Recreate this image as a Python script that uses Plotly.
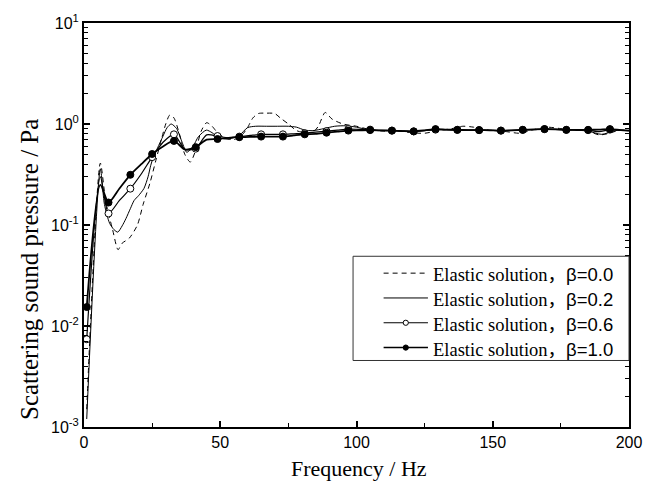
import plotly.graph_objects as go

# Scattered sound pressure amplitude (Pa) versus frequency (Hz) for four damping ratios
F_B00 = [1, 6, 8, 10.5, 12.5, 14, 16.6, 19.6, 21.7, 24.2, 26.5, 28.5, 30, 31.5, 33, 35, 37, 39, 41, 43,
         45, 47, 49, 52, 55, 58, 60, 62, 64, 67, 70, 72, 75, 78, 81, 84, 86, 88.5, 91, 95,
         100, 105, 110, 115, 120, 125, 130, 135, 139, 143, 147, 151, 155, 160, 165, 170, 175, 180, 185, 189,
         192, 196, 200]
P_B00 = [0.0015, 0.41, 0.17, 0.09, 0.057, 0.066, 0.074, 0.10, 0.16, 0.26, 0.45, 0.72, 1.0, 1.23, 1.15, 0.8, 0.5, 0.42, 0.55, 0.85,
         1.03, 0.95, 0.82, 0.72, 0.70, 0.78, 0.92, 1.15, 1.27, 1.28, 1.27, 1.15, 1.0, 0.86, 0.82, 0.83, 0.95, 1.3, 1.12, 1.0,
         0.95, 0.88, 0.85, 0.86, 0.82, 0.81, 0.86, 0.9, 0.95, 0.93, 0.88, 0.86, 0.84, 0.81, 0.88, 0.93, 0.9, 0.87, 0.85, 0.78,
         0.8, 0.86, 0.87]

F_B02 = [1, 6, 7.5, 9.4, 11, 12.4, 14, 15.4, 17, 18.4, 20, 22, 23.5, 24.5, 25.7, 27, 29, 30.5, 32, 34,
         36, 37.7, 40, 42, 44.9, 47, 49.2, 52, 54, 57, 60, 63, 67, 71, 75, 78, 81, 84, 88, 92,
         96, 100, 104, 108, 113, 121, 129, 137, 145, 153, 161, 169, 177, 185, 190, 195, 200]
P_B02 = [0.0012, 0.36, 0.16, 0.104, 0.09, 0.085, 0.098, 0.116, 0.145, 0.175, 0.195, 0.23, 0.3, 0.39, 0.49, 0.58, 0.76, 0.92, 1.0, 0.9,
         0.66, 0.525, 0.6, 0.75, 0.87, 0.82, 0.74, 0.71, 0.72, 0.77, 0.92, 0.95, 0.95, 0.95, 0.95, 0.93, 0.87, 0.86, 0.9, 0.95,
         0.96, 0.93, 0.88, 0.86, 0.86, 0.85, 0.88, 0.87, 0.87, 0.86, 0.87, 0.89, 0.88, 0.85, 0.79, 0.86, 0.86]

F_B06 = [1, 6, 9, 13, 17, 21, 25, 29, 33, 37, 41, 45, 49, 53, 57, 61, 65, 69, 73, 77,
         81, 85, 89, 93, 97, 101, 105, 109, 113, 117, 121, 125, 129, 133, 137, 141, 145, 149, 153, 157,
         161, 165, 169, 173, 177, 181, 185, 189, 193, 197, 200]
P_B06 = [0.0074, 0.30, 0.13, 0.175, 0.229, 0.32, 0.47, 0.66, 0.79, 0.56, 0.57, 0.78, 0.76, 0.73, 0.75, 0.77, 0.79, 0.79, 0.79, 0.80,
         0.81, 0.83, 0.85, 0.87, 0.89, 0.885, 0.88, 0.865, 0.86, 0.85, 0.845, 0.86, 0.88, 0.88, 0.875, 0.87, 0.87, 0.865, 0.86, 0.865,
         0.875, 0.88, 0.89, 0.885, 0.875, 0.87, 0.87, 0.84, 0.88, 0.87, 0.86]

F_B10 = [1, 6, 9, 13, 17, 21, 25, 29, 33, 37, 41, 45, 49, 53, 57, 61, 65, 69, 73, 77,
         81, 85, 89, 93, 97, 101, 105, 109, 113, 117, 121, 125, 129, 133, 137, 141, 145, 149, 153, 157,
         161, 165, 169, 173, 177, 181, 185, 189, 193, 197, 200]
P_B10 = [0.0154, 0.25, 0.167, 0.23, 0.314, 0.40, 0.505, 0.60, 0.68, 0.56, 0.59, 0.70, 0.71, 0.73, 0.74, 0.745, 0.75, 0.75, 0.75, 0.77,
         0.79, 0.80, 0.82, 0.84, 0.86, 0.865, 0.87, 0.865, 0.86, 0.85, 0.845, 0.865, 0.89, 0.88, 0.875, 0.87, 0.87, 0.865, 0.86, 0.865,
         0.875, 0.885, 0.89, 0.885, 0.875, 0.875, 0.875, 0.88, 0.89, 0.87, 0.86]

# frequencies at which symbols are plotted on the marked curves
MARKER_F = [1, 9, 17, 25, 33, 41, 49, 57, 65, 73, 81, 89, 97, 105, 113, 121, 129, 137, 145, 153,
            161, 169, 177, 185, 193]

BETAS = ["0.0", "0.2", "0.6", "1.0"]
X_TICKS = [0, 50, 100, 150, 200]
Y_TICKS = [1e-3, 1e-2, 1e-1, 1, 10]
Y_TICK_TEXT = ["10<sup>-3</sup>", "10<sup>-2</sup>", "10<sup>-1</sup>", "10<sup>0</sup>", "10<sup>1</sup>"]
X_TITLE = "Frequency / Hz"
Y_TITLE = "Scattering sound pressure / Pa"

SERIF = "Liberation Serif"
SANS = "Liberation Sans"

LINE_STYLES = [
    dict(color="black", width=1, dash="5px,4px"),
    dict(color="black", width=1),
    dict(color="black", width=1.2),
    dict(color="black", width=1.8),
]
MARKER_FILL = [None, None, "white", "black"]

series = [(F_B00, P_B00), (F_B02, P_B02), (F_B06, P_B06), (F_B10, P_B10)]

W, H = 654, 484
L, R, T, B = 84, 17, 20, 57
PW, PH = W - L - R, H - T - B


def px_x(x):
    return (x - L) / PW


def px_y(y):
    return (H - B - y) / PH


fig = go.Figure()
for (fx, py), line, fill in zip(series, LINE_STYLES, MARKER_FILL):
    fig.add_trace(go.Scatter(x=fx, y=py, mode="lines",
                             line=dict(shape="spline", smoothing=0.7, **line),
                             showlegend=False, hoverinfo="skip"))
    if fill is not None:
        mx = [f for f in fx if f in MARKER_F]
        my = [p for f, p in zip(fx, py) if f in MARKER_F]
        fig.add_trace(go.Scatter(x=mx, y=my, mode="markers", showlegend=False, hoverinfo="skip",
                                 marker=dict(symbol="circle", size=7, color=fill,
                                             line=dict(color="black", width=1))))

# boxed key in the lower right of the plot area
shapes = [dict(type="rect", xref="paper", yref="paper",
               x0=px_x(357), x1=1.0, y0=px_y(360), y1=px_y(255),
               line=dict(color="#333333", width=1), fillcolor="white", layer="above")]
annotations = []
KEY_ROWS = [272, 297, 322, 347]
for row, beta, line, fill in zip(KEY_ROWS, BETAS, LINE_STYLES, MARKER_FILL):
    shapes.append(dict(type="line", xref="paper", yref="paper",
                       x0=px_x(388), x1=px_x(433), y0=px_y(row), y1=px_y(row),
                       line=dict(color="black", width=min(line["width"], 1.5), dash=line.get("dash", "solid")),
                       layer="above"))
    if fill is not None:
        shapes.append(dict(type="circle", xref="paper", yref="paper",
                           xsizemode="pixel", ysizemode="pixel",
                           xanchor=px_x(410.5), yanchor=px_y(row),
                           x0=-2.6, x1=2.6, y0=-2.6, y1=2.6,
                           line=dict(color="black", width=1), fillcolor=fill, layer="above"))
    annotations.append(dict(
        text=("Elastic solution<span style='font-family:Noto Sans CJK SC'>，</span>"
              "<span style='font-family:Liberation Sans'>\u03b2=" + beta + "</span>"),
        xref="paper", yref="paper", x=px_x(436), y=px_y(row), xanchor="left", yanchor="middle",
        showarrow=False, font=dict(family=SERIF, size=18.5, color="black")))

annotations += [
    dict(text=Y_TITLE, xref="paper", yref="paper", x=px_x(28), y=px_y(268), showarrow=False,
         textangle=-90, xanchor="center", yanchor="middle",
         font=dict(family=SERIF, size=25, color="black")),
    dict(text=X_TITLE, xref="paper", yref="paper", x=px_x(363), y=px_y(469), showarrow=False,
         xanchor="center", yanchor="middle",
         font=dict(family=SERIF, size=22, color="black")),
]

axis_common = dict(showline=True, linewidth=2, linecolor="black", showgrid=False, zeroline=False,
                   ticks="inside", tickcolor="black", tickwidth=1.5, ticklen=6,
                   tickfont=dict(family=SANS, size=16, color="black"))

fig.update_xaxes(range=[0, 200], tickmode="array", tickvals=X_TICKS, mirror=True,
                 minor=dict(tickmode="linear", tick0=0, dtick=25, ticks="inside", ticklen=4,
                            tickcolor="black", tickwidth=1.2),
                 **axis_common)
fig.update_yaxes(type="log", range=[-3, 1], tickmode="array", tickvals=Y_TICKS, ticktext=Y_TICK_TEXT,
                 mirror="ticks",
                 minor=dict(tickmode="array", tickvals=[m * 10 ** e for e in range(-3, 1) for m in range(2, 10)],
                            ticks="inside", ticklen=4, tickcolor="black", tickwidth=1.2),
                 **axis_common)

fig.update_layout(
    width=W, height=H,
    margin=dict(l=L, r=R, t=T, b=B, pad=0),
    plot_bgcolor="white", paper_bgcolor="white",
    showlegend=False,
    shapes=shapes,
    annotations=annotations,
)

fig.write_html("out.html")
